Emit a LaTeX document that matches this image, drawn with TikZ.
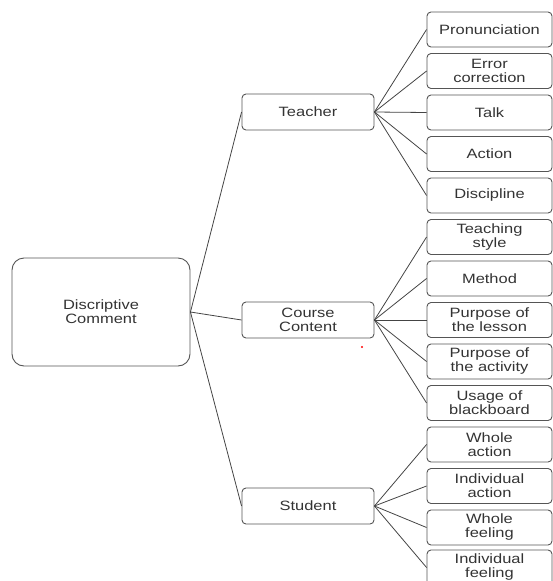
\documentclass[tikz,border=0pt]{standalone}
\usepackage{fontspec}
\setmainfont[FakeStretch=1.22]{Liberation Sans}
\definecolor{boxgray}{HTML}{555555}
\definecolor{linegray}{HTML}{444444}
\definecolor{textgray}{HTML}{333333}

\begin{document}
\begin{tikzpicture}[x=1pt,y=-1pt,
    box/.style={draw=boxgray,line width=0.9pt,rounded corners=4pt,align=center,
      inner sep=0pt,text=textgray,font=\fontsize{13.5}{14}\selectfont},
    mid/.style={box,minimum width=132pt,minimum height=36pt},
    leaf/.style={box,minimum width=125pt,minimum height=35pt},
    link/.style={draw=linegray,line width=0.8pt}]
        \useasboundingbox (0,0) rectangle (553,581);
        \clip (0,0) rectangle (553,581);
        % root
        \node[box,rounded corners=12pt,minimum width=178pt,minimum height=108pt] (dc) at (101,312) {Discriptive\\Comment};
        % second level
        \node[mid] (teacher) at (308,112) {Teacher};
        \node[mid] (course) at (308,320) {Course\\Content};
        \node[mid] (student) at (308,506) {Student};
        % leaves
        \node[leaf] (pron) at (489.5,29.5) {Pronunciation};
        \node[leaf] (err) at (489.5,71) {Error\\correction};
        \node[leaf] (talk) at (489.5,112.5) {Talk};
        \node[leaf] (act) at (489.5,154) {Action};
        \node[leaf] (disc) at (489.5,195.5) {Discipline};
        \node[leaf] (style) at (489.5,237) {Teaching\\style};
        \node[leaf] (meth) at (489.5,278.5) {Method};
        \node[leaf] (lesson) at (489.5,320) {Purpose of\\the lesson};
        \node[leaf] (activ) at (489.5,361.5) {Purpose of\\the activity};
        \node[leaf] (board) at (489.5,403) {Usage of\\blackboard};
        \node[leaf] (wact) at (489.5,444.5) {Whole\\action};
        \node[leaf] (iact) at (489.5,486) {Individual\\action};
        \node[leaf] (wfeel) at (489.5,527.5) {Whole\\feeling};
        \node[leaf] (ifeel) at (489.5,567.5) {Individual\\feeling};
        % connectors
        \path[link] (dc.east) edge (teacher.west) edge (course.west) edge (student.west);
        \path[link] (teacher.east) edge (pron.west) edge (err.west) edge (talk.west)
          edge (act.west) edge (disc.west);
        \path[link] (course.east) edge (style.west) edge (meth.west) edge (lesson.west)
          edge (activ.west) edge (board.west);
        \path[link] (student.east) edge (wact.west) edge (iact.west) edge (wfeel.west)
          edge (ifeel.west);
        \fill[red] (362,347) circle (1.2pt);
      \end{tikzpicture}
\end{document}
